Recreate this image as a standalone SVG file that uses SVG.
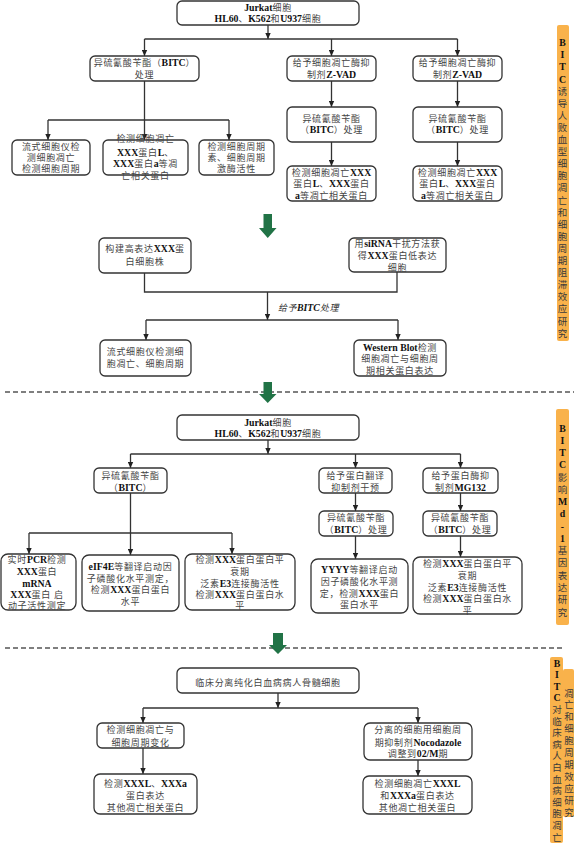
<svg xmlns="http://www.w3.org/2000/svg" width="574" height="844" viewBox="0 0 574 844">
<defs>
<marker id="ah" viewBox="0 0 10 10" refX="10" refY="5" markerWidth="6" markerHeight="6" markerUnits="userSpaceOnUse" orient="auto"><path d="M0,0.5 L10,5 L0,9.5 z" fill="#222"/></marker>
<style>
.bx{fill:#fff;stroke:#333;stroke-width:1.3}
.t{font-family:"Liberation Serif","Noto Sans CJK SC",serif;font-size:9px;letter-spacing:0.7px;fill:#444;text-anchor:middle}
.t tspan.b,.v tspan.b,.it tspan.b{font-weight:bold;fill:#111;font-size:9.8px;letter-spacing:0}
.ln{fill:none;stroke:#333;stroke-width:1.3}
.ar{fill:none;stroke:#333;stroke-width:1.3;marker-end:url(#ah)}
.dash{fill:none;stroke:#555;stroke-width:1.5;stroke-dasharray:5 3}
.ga{fill:#217346}
.ob{fill:#F9B24B}
.v{font-family:"Liberation Serif","Noto Sans CJK SC",serif;font-size:9.5px;fill:#3a3a3a;text-anchor:middle}
.it{font-family:"Liberation Serif","Noto Sans CJK SC",serif;font-size:9px;letter-spacing:0.5px;fill:#333;font-style:italic}
</style>
</defs>
<rect width="574" height="844" fill="#fff"/>

<g id="connectors">
<path class="ar" d="M268,25 V39"/>
<path class="ln" d="M144.5,39 H457.5"/>
<path class="ar" d="M144.5,39 V56"/>
<path class="ar" d="M331.5,39 V56"/>
<path class="ar" d="M457.5,39 V56"/>
<path class="ar" d="M331.5,81 V107"/>
<path class="ar" d="M457.5,81 V107"/>
<path class="ar" d="M331.5,142 V166"/>
<path class="ar" d="M457.5,142 V166"/>
<path class="ar" d="M144.5,81 V140"/>
<path class="ln" d="M48,120 H229"/>
<path class="ar" d="M48,120 V140"/>
<path class="ar" d="M229,120 V140"/>
<path class="ln" d="M144.5,273 V292 H397 V272"/>
<path class="ar" d="M267.5,292 V320"/>
<path class="ln" d="M146,320 H398"/>
<path class="ar" d="M146,320 V340"/>
<path class="ar" d="M398,320 V340"/>
<path class="ar" d="M268,440 V454"/>
<path class="ln" d="M130.5,454 H460.5"/>
<path class="ar" d="M130.5,454 V468"/>
<path class="ar" d="M355.5,454 V468"/>
<path class="ar" d="M460.5,454 V468"/>
<path class="ar" d="M355.5,493 V511"/>
<path class="ar" d="M460.5,493 V511"/>
<path class="ar" d="M355.5,536 V559"/>
<path class="ar" d="M460.5,536 V557"/>
<path class="ar" d="M130.5,493 V555"/>
<path class="ln" d="M29,533 H232"/>
<path class="ar" d="M29,533 V554"/>
<path class="ar" d="M232,533 V554"/>
<path class="ar" d="M278,693 V708"/>
<path class="ln" d="M143,708 H418"/>
<path class="ar" d="M143,708 V723"/>
<path class="ar" d="M418,708 V723"/>
<path class="ar" d="M143,748 V774"/>
<path class="ar" d="M418,760 V776"/>
</g>

<g id="separators">
<path class="dash" d="M5,392 H574"/>
<path class="dash" d="M5,648 H565"/>
<polygon class="ga" points="263.5,214 272,214 272,228 276.5,228 267.75,238 259,228 263.5,228"/>
<polygon class="ga" points="263.5,382 272,382 272,394 276.5,394 267.75,403 259,394 263.5,394"/>
<polygon class="ga" points="273,633 283,633 283,645 287,645 278,654 269,645 273,645"/>
</g>

<g id="n1"><rect class="bx" x="177" y="1" width="182" height="24" rx="5"/>
<text class="t" x="268" y="11"><tspan class="b">Jurkat</tspan>细胞</text>
<text class="t" x="268" y="22"><tspan class="b">HL60</tspan>、<tspan class="b">K562</tspan>和<tspan class="b">U937</tspan>细胞</text></g>

<g id="n2"><rect class="bx" x="90" y="56" width="109" height="25" rx="5"/>
<text class="t" x="144.5" y="66">异硫氰酸苄酯（<tspan class="b">BITC</tspan>）</text>
<text class="t" x="144.5" y="78">处理</text></g>

<g id="n3"><rect class="bx" x="287" y="56" width="89" height="25" rx="5"/>
<text class="t" x="331.5" y="66">给予细胞凋亡酶抑</text>
<text class="t" x="331.5" y="78">制剂<tspan class="b">Z-VAD</tspan></text></g>

<g id="n4"><rect class="bx" x="413" y="56" width="89" height="25" rx="5"/>
<text class="t" x="457.5" y="66">给予细胞凋亡酶抑</text>
<text class="t" x="457.5" y="78">制剂<tspan class="b">Z-VAD</tspan></text></g>

<g id="n5"><rect class="bx" x="287" y="107" width="89" height="35" rx="5"/>
<text class="t" x="331.5" y="121.5">异硫氰酸苄酯</text>
<text class="t" x="331.5" y="132.5">（<tspan class="b">BITC</tspan>）处理</text></g>

<g id="n6"><rect class="bx" x="413" y="107" width="89" height="35" rx="5"/>
<text class="t" x="457.5" y="121.5">异硫氰酸苄酯</text>
<text class="t" x="457.5" y="132.5">（<tspan class="b">BITC</tspan>）处理</text></g>

<g id="n7"><rect class="bx" x="287" y="166" width="89" height="35" rx="5"/>
<text class="t" x="331.5" y="175.5">检测细胞凋亡<tspan class="b">XXX</tspan></text>
<text class="t" x="331.5" y="186.5">蛋白<tspan class="b">L</tspan>、<tspan class="b">XXX</tspan>蛋白</text>
<text class="t" x="331.5" y="198.5"><tspan class="b">a</tspan>等凋亡相关蛋白</text></g>

<g id="n8"><rect class="bx" x="413" y="166" width="89" height="35" rx="5"/>
<text class="t" x="457.5" y="175.5">检测细胞凋亡<tspan class="b">XXX</tspan></text>
<text class="t" x="457.5" y="186.5">蛋白<tspan class="b">L</tspan>、<tspan class="b">XXX</tspan>蛋白</text>
<text class="t" x="457.5" y="198.5"><tspan class="b">a</tspan>等凋亡相关蛋白</text></g>

<g id="n9"><rect class="bx" x="12" y="140" width="78" height="35" rx="5"/>
<text class="t" x="51" y="149.5">流式细胞仪检</text>
<text class="t" x="51" y="160.5">测细胞凋亡</text>
<text class="t" x="51" y="172">检测细胞周期</text></g>

<g id="n10"><rect class="bx" x="103" y="140" width="85" height="35" rx="5"/>
<text class="t" x="145.5" y="141.5">检测细胞凋亡</text>
<text class="t" x="145.5" y="156"><tspan class="b">XXX</tspan>蛋白<tspan class="b">L</tspan>、</text>
<text class="t" x="145.5" y="167"><tspan class="b">XXX</tspan>蛋白<tspan class="b">a</tspan>等凋</text>
<text class="t" x="145.5" y="178.5">亡相关蛋白</text></g>

<g id="n11"><rect class="bx" x="199" y="140" width="75" height="35" rx="5"/>
<text class="t" x="236.5" y="149.5">检测细胞周期</text>
<text class="t" x="236.5" y="160.5">素、细胞周期</text>
<text class="t" x="236.5" y="172">激酶活性</text></g>

<g id="n12"><rect class="bx" x="99" y="238" width="92" height="35" rx="5"/>
<text class="t" x="145" y="251.5">构建高表达<tspan class="b">XXX</tspan>蛋</text>
<text class="t" x="145" y="264.5">白细胞株</text></g>

<g id="n13"><rect class="bx" x="349" y="238" width="97" height="34" rx="5"/>
<text class="t" x="397.5" y="246.5">用<tspan class="b">siRNA</tspan>干扰方法获</text>
<text class="t" x="397.5" y="258.5">得<tspan class="b">XXX</tspan>蛋白低表达</text>
<text class="t" x="397.5" y="270.5">细胞</text></g>

<g id="label1"><text class="it" x="278" y="311">给予<tspan class="b">BITC</tspan>处理</text></g>

<g id="n14"><rect class="bx" x="100" y="340" width="91" height="36" rx="5"/>
<text class="t" x="145.5" y="354.5">流式细胞仪检测细</text>
<text class="t" x="145.5" y="366.5">胞凋亡、细胞周期</text></g>

<g id="n15"><rect class="bx" x="354" y="340" width="92" height="36" rx="5"/>
<text class="t" x="400" y="350.5"><tspan class="b">Western Blot</tspan>检测</text>
<text class="t" x="400" y="361.5">细胞凋亡与细胞周</text>
<text class="t" x="400" y="373.5">期相关蛋白表达</text></g>

<g id="n16"><rect class="bx" x="177" y="415" width="182" height="25" rx="5"/>
<text class="t" x="268" y="425.5"><tspan class="b">Jurkat</tspan>细胞</text>
<text class="t" x="268" y="436.5"><tspan class="b">HL60</tspan>、<tspan class="b">K562</tspan>和<tspan class="b">U937</tspan>细胞</text></g>

<g id="n17"><rect class="bx" x="94" y="468" width="73" height="25" rx="5"/>
<text class="t" x="130.5" y="478.5">异硫氰酸苄酯</text>
<text class="t" x="130.5" y="490.5">（<tspan class="b">BITC</tspan>）</text></g>

<g id="n18"><rect class="bx" x="319" y="468" width="73" height="25" rx="5"/>
<text class="t" x="355.5" y="478.5">给予蛋白翻译</text>
<text class="t" x="355.5" y="490.5">抑制剂干预</text></g>

<g id="n19"><rect class="bx" x="423" y="468" width="75" height="25" rx="5"/>
<text class="t" x="460.5" y="478.5">给予蛋白酶抑</text>
<text class="t" x="460.5" y="490.5">制剂<tspan class="b">MG132</tspan></text></g>

<g id="n20"><rect class="bx" x="319" y="511" width="74" height="25" rx="5"/>
<text class="t" x="356" y="520.5">异硫氰酸苄酯</text>
<text class="t" x="356" y="532.5">（<tspan class="b">BITC</tspan>）处理</text></g>

<g id="n21"><rect class="bx" x="423" y="511" width="74" height="25" rx="5"/>
<text class="t" x="460" y="520.5">异硫氰酸苄酯</text>
<text class="t" x="460" y="532.5">（<tspan class="b">BITC</tspan>）处理</text></g>

<g id="n22"><rect class="bx" x="311" y="559" width="97" height="54" rx="7"/>
<text class="t" x="359.5" y="572.5"><tspan class="b">YYYY</tspan>等翻译启动</text>
<text class="t" x="359.5" y="584.5">因子磷酸化水平测</text>
<text class="t" x="359.5" y="596.5">定，检测<tspan class="b">XXX</tspan>蛋白</text>
<text class="t" x="359.5" y="607.5">蛋白水平</text></g>

<g id="n23"><rect class="bx" x="413" y="557" width="109" height="57" rx="7"/>
<text class="t" x="467.5" y="566.5">检测<tspan class="b">XXX</tspan>蛋白蛋白平</text>
<text class="t" x="467.5" y="578.5">衰期</text>
<text class="t" x="467.5" y="590.5">泛素<tspan class="b">E3</tspan>连接酶活性</text>
<text class="t" x="467.5" y="601.5">检测<tspan class="b">XXX</tspan>蛋白蛋白水</text>
<text class="t" x="467.5" y="613.5">平</text></g>

<g id="n24"><rect class="bx" x="1" y="554" width="75" height="56" rx="7"/>
<text class="t" x="37" y="562.5">实时<tspan class="b">PCR</tspan>检测</text>
<text class="t" x="37" y="574.5"><tspan class="b">XXX</tspan>蛋白</text>
<text class="t" x="37" y="586.5"><tspan class="b">mRNA</tspan></text>
<text class="t" x="37" y="597.5"><tspan class="b">XXX</tspan>蛋白 启</text>
<text class="t" x="37" y="608.5">动子活性测定</text></g>

<g id="n25"><rect class="bx" x="82" y="555" width="97" height="56" rx="7"/>
<text class="t" x="130.5" y="569.5"><tspan class="b">eIF4E</tspan>等翻译启动因</text>
<text class="t" x="130.5" y="581.5">子磷酸化水平测定，</text>
<text class="t" x="130.5" y="592.5">检测<tspan class="b">XXX</tspan>蛋白蛋白</text>
<text class="t" x="130.5" y="604.5">水平</text></g>

<g id="n26"><rect class="bx" x="185" y="554" width="110" height="56" rx="7"/>
<text class="t" x="240" y="562.5">检测<tspan class="b">XXX</tspan>蛋白蛋白平</text>
<text class="t" x="240" y="574.5">衰期</text>
<text class="t" x="240" y="586.5">泛素<tspan class="b">E3</tspan>连接酶活性</text>
<text class="t" x="240" y="597.5">检测<tspan class="b">XXX</tspan>蛋白蛋白水</text>
<text class="t" x="240" y="608.5">平</text></g>

<g id="n27"><rect class="bx" x="177" y="668" width="182" height="25" rx="5"/>
<text class="t" x="268" y="685.5">临床分离纯化白血病病人骨髓细胞</text></g>

<g id="n28"><rect class="bx" x="97" y="723" width="87" height="25" rx="5"/>
<text class="t" x="140.5" y="732.5">检测细胞凋亡与</text>
<text class="t" x="140.5" y="745.5">细胞周期变化</text></g>

<g id="n29"><rect class="bx" x="94" y="774" width="103" height="40" rx="6"/>
<text class="t" x="145.5" y="786.5">检测<tspan class="b">XXXL</tspan>、<tspan class="b">XXXa</tspan></text>
<text class="t" x="145.5" y="798.5">蛋白表达</text>
<text class="t" x="145.5" y="810.5">其他凋亡相关蛋白</text></g>

<g id="n30"><rect class="bx" x="364" y="723" width="108" height="37" rx="6"/>
<text class="t" x="418" y="732.5">分离的细胞用细胞周</text>
<text class="t" x="418" y="745.5">期抑制剂<tspan class="b">Nocodazole</tspan></text>
<text class="t" x="418" y="756.5">调整到<tspan class="b">02/M</tspan>期</text></g>

<g id="n31"><rect class="bx" x="363" y="776" width="109" height="38" rx="6"/>
<text class="t" x="417.5" y="786.5">检测细胞凋亡<tspan class="b">XXXL</tspan></text>
<text class="t" x="417.5" y="798.5">和<tspan class="b">XXXa</tspan>蛋白表达</text>
<text class="t" x="417.5" y="810.5">其他凋亡相关蛋白</text></g>

<g id="bar1"><rect class="ob" x="557" y="25" width="12" height="316" rx="2"/>
<text class="v" x="562.5" y="46.2"><tspan class="b" x="562.5">B</tspan><tspan class="b" x="562.5" dy="12.1">I</tspan><tspan class="b" x="562.5" dy="12.1">T</tspan><tspan class="b" x="562.5" dy="12.1">C</tspan><tspan x="562.5" dy="12.1">诱</tspan><tspan x="562.5" dy="12.1">导</tspan><tspan x="562.5" dy="12.1">人</tspan><tspan x="562.5" dy="12.1">败</tspan><tspan x="562.5" dy="12.1">血</tspan><tspan x="562.5" dy="12.1">型</tspan><tspan x="562.5" dy="12.1">细</tspan><tspan x="562.5" dy="12.1">胞</tspan><tspan x="562.5" dy="12.1">凋</tspan><tspan x="562.5" dy="12.1">亡</tspan><tspan x="562.5" dy="12.1">和</tspan><tspan x="562.5" dy="12.1">细</tspan><tspan x="562.5" dy="12.1">胞</tspan><tspan x="562.5" dy="12.1">周</tspan><tspan x="562.5" dy="12.1">期</tspan><tspan x="562.5" dy="12.1">阻</tspan><tspan x="562.5" dy="12.1">滞</tspan><tspan x="562.5" dy="12.1">效</tspan><tspan x="562.5" dy="12.1">应</tspan><tspan x="562.5" dy="12.1">研</tspan><tspan x="562.5" dy="12.1">究</tspan></text></g>

<g id="bar2"><rect class="ob" x="556" y="409" width="13" height="216" rx="2"/>
<text class="v" x="562.5" y="431.5"><tspan class="b" x="562.5">B</tspan><tspan class="b" x="562.5" dy="12.27">I</tspan><tspan class="b" x="562.5" dy="12.27">T</tspan><tspan class="b" x="562.5" dy="12.27">C</tspan><tspan x="562.5" dy="12.27">影</tspan><tspan x="562.5" dy="12.27">响</tspan><tspan class="b" x="562.5" dy="12.27">M</tspan><tspan class="b" x="562.5" dy="12.27">d</tspan><tspan class="b" x="562.5" dy="12.27">-</tspan><tspan class="b" x="562.5" dy="12.27">1</tspan><tspan x="562.5" dy="12.27">基</tspan><tspan x="562.5" dy="12.27">因</tspan><tspan x="562.5" dy="12.27">表</tspan><tspan x="562.5" dy="12.27">达</tspan><tspan x="562.5" dy="12.27">研</tspan><tspan x="562.5" dy="12.27">究</tspan></text></g>

<g id="bar3"><rect class="ob" x="563" y="669" width="11" height="148" rx="2"/>
<rect class="ob" x="550" y="657" width="13" height="186" rx="2"/>
<text class="v" x="557" y="666.5"><tspan class="b" x="557">B</tspan><tspan class="b" x="557" dy="11.6">I</tspan><tspan class="b" x="557" dy="11.6">T</tspan><tspan class="b" x="557" dy="11.6">C</tspan><tspan x="557" dy="11.6">对</tspan><tspan x="557" dy="11.6">临</tspan><tspan x="557" dy="11.6">床</tspan><tspan x="557" dy="11.6">病</tspan><tspan x="557" dy="11.6">人</tspan><tspan x="557" dy="11.6">白</tspan><tspan x="557" dy="11.6">血</tspan><tspan x="557" dy="11.6">病</tspan><tspan x="557" dy="11.6">细</tspan><tspan x="557" dy="11.6">胞</tspan><tspan x="557" dy="11.6">凋</tspan><tspan x="557" dy="11.6">亡</tspan></text>
<text class="v" x="569" y="696.5"><tspan x="569">凋</tspan><tspan x="569" dy="11.9">亡</tspan><tspan x="569" dy="11.9">和</tspan><tspan x="569" dy="11.9">细</tspan><tspan x="569" dy="11.9">胞</tspan><tspan x="569" dy="11.9">周</tspan><tspan x="569" dy="11.9">期</tspan><tspan x="569" dy="11.9">效</tspan><tspan x="569" dy="11.9">应</tspan><tspan x="569" dy="11.9">研</tspan><tspan x="569" dy="11.9">究</tspan></text></g>
</svg>
